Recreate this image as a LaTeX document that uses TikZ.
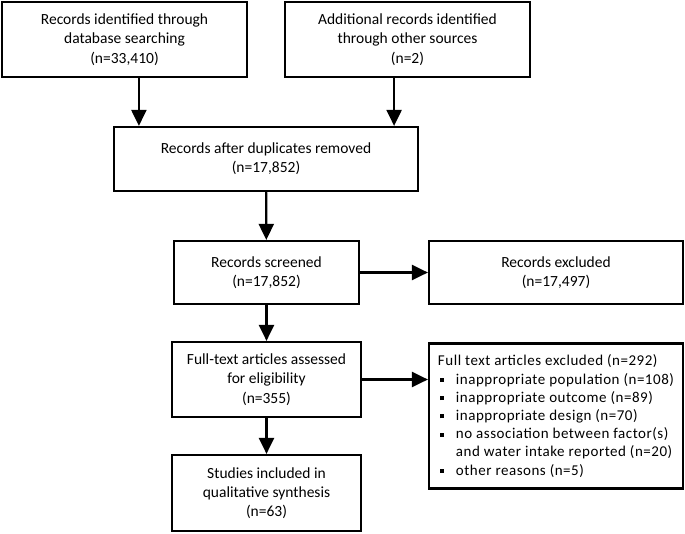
\documentclass[tikz,border=0pt]{standalone}
\usepackage{fontspec}
\setmainfont{Carlito}
\newfontfamily\widefont[LetterSpace=3.5]{Carlito}
\usetikzlibrary{arrows.meta}
\newcommand{\sqbullet}{\makebox[18pt][l]{\hspace{2pt}\raisebox{0.3ex}{\rule{4pt}{4pt}}}}

\begin{document}
\begin{tikzpicture}[x=1pt, y=-1pt,
    box/.style={draw, line width=2.2pt, align=center, inner sep=0pt, font={\fontsize{15.5}{19.2}\selectfont}},
    arr/.style={line width=2.2pt, -{Triangle[width=15pt, length=16pt]}}]
  \useasboundingbox (0,0) rectangle (685,533);

  \node[box, minimum width=245pt, minimum height=75pt] (ident) at (124.5, 39.5) {Records identified through\\database searching\\(n=33,410)};
  \node[box, minimum width=245pt, minimum height=75pt] (other) at (407.5, 39.5) {Additional records identified\\through other sources\\(n=2)};
  \node[box, minimum width=304pt, minimum height=64pt] (dup) at (266, 159) {Records after duplicates removed\\(n=17,852)};
  \node[box, minimum width=185pt, minimum height=63pt] (screen) at (266.5, 272.5) {Records screened\\(n=17,852)};
  \node[box, minimum width=254pt, minimum height=63pt] (excl) at (556, 272.5) {Records excluded\\(n=17,497)};
  \node[box, minimum width=189pt, minimum height=75pt] (full) at (266.5, 379.5) {Full-text articles assessed\\for eligibility\\(n=355)};
  \node[box, minimum width=254pt, minimum height=145pt, align=left,
        font={\widefont\fontsize{15}{18.2}\selectfont}] (fullexcl) at (556, 416) {Full text articles excluded (n=292)\\
    \sqbullet inappropriate population (n=108)\\
    \sqbullet inappropriate outcome (n=89)\\
    \sqbullet inappropriate design (n=70)\\
    \sqbullet no association between factor(s)\\
    \hspace*{18pt}and water intake reported (n=20)\\
    \sqbullet other reasons (n=5)};
  \node[box, minimum width=189pt, minimum height=76pt] (incl) at (266.5, 493) {Studies included in\\qualitative synthesis\\(n=63)};

  \draw[arr] ([xshift=26pt]dup.north west |- ident.south) -- ([xshift=26pt]dup.north west);
  \draw[arr] ([xshift=-25pt]dup.north east |- other.south) -- ([xshift=-25pt]dup.north east);
  \draw[arr] (dup) -- (screen);
  \draw[arr] (screen) -- (excl);
  \draw[arr] (screen) -- (full);
  \draw[arr] (full.east) -- (full.east -| fullexcl.west);
  \draw[arr] (full) -- (incl);
\end{tikzpicture}
\end{document}
